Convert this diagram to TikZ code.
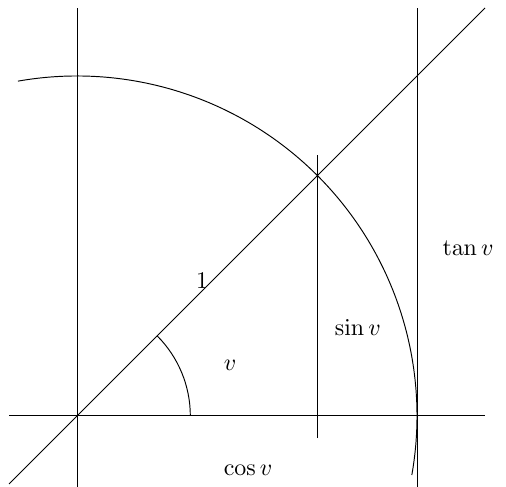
\documentclass[tikz,border=0pt]{standalone}
\usepackage{tikz}
\usetikzlibrary{positioning}
\usepackage{amsmath}

\begin{document}
\begin{tikzpicture}[
        x=5cm, y=5cm,
        ln/.style  = {thin},
        lbl/.style = {inner sep=1pt}
    ]
        \useasboundingbox (-0.2265,-0.2088) rectangle (1.2618,1.2235);

        \coordinate (O)   at (0,0);
        \coordinate (xl)  at (-0.2,0);
        \coordinate (xr)  at (1.2,0);
        \coordinate (yb)  at (0,-0.2088);
        \coordinate (yt)  at (0,1.2);
        \coordinate (tb)  at (1,-0.2088);
        \coordinate (tt)  at (1,1.2);
        \coordinate (db)  at (-0.2,-0.2);
        \coordinate (dt)  at (1.2,1.2);
        \coordinate (sb)  at (0.7071,-0.065);
        \coordinate (st)  at (0.7071,0.768);
        \coordinate (cs)  at (-10:1);
        \coordinate (vs)  at (0.3333,0);

        \draw[ln] (xl) -- (xr);
        \draw[ln] (yb) -- (yt);
        \draw[ln] (tb) -- (tt);
        \draw[ln] (db) -- (dt);
        \draw[ln] (sb) -- (st);

        \draw[ln] (cs) arc[start angle=-10, end angle=100, radius=1];
        \draw[ln] (vs) arc[start angle=0, end angle=45, radius=0.3333];

        \node[lbl] (one) at (0.368,0.397)  {$1$};
        \node[lbl] (ang) at (0.45,0.15)    {$v$};
        \node[lbl] (sin) at (0.826,0.259)  {$\sin v$};
        \node[lbl] (tan) at (1.15,0.494)   {$\tan v$};
        \node[lbl] (cos) at (0.503,-0.159) {$\cos v$};
    \end{tikzpicture}
\end{document}
